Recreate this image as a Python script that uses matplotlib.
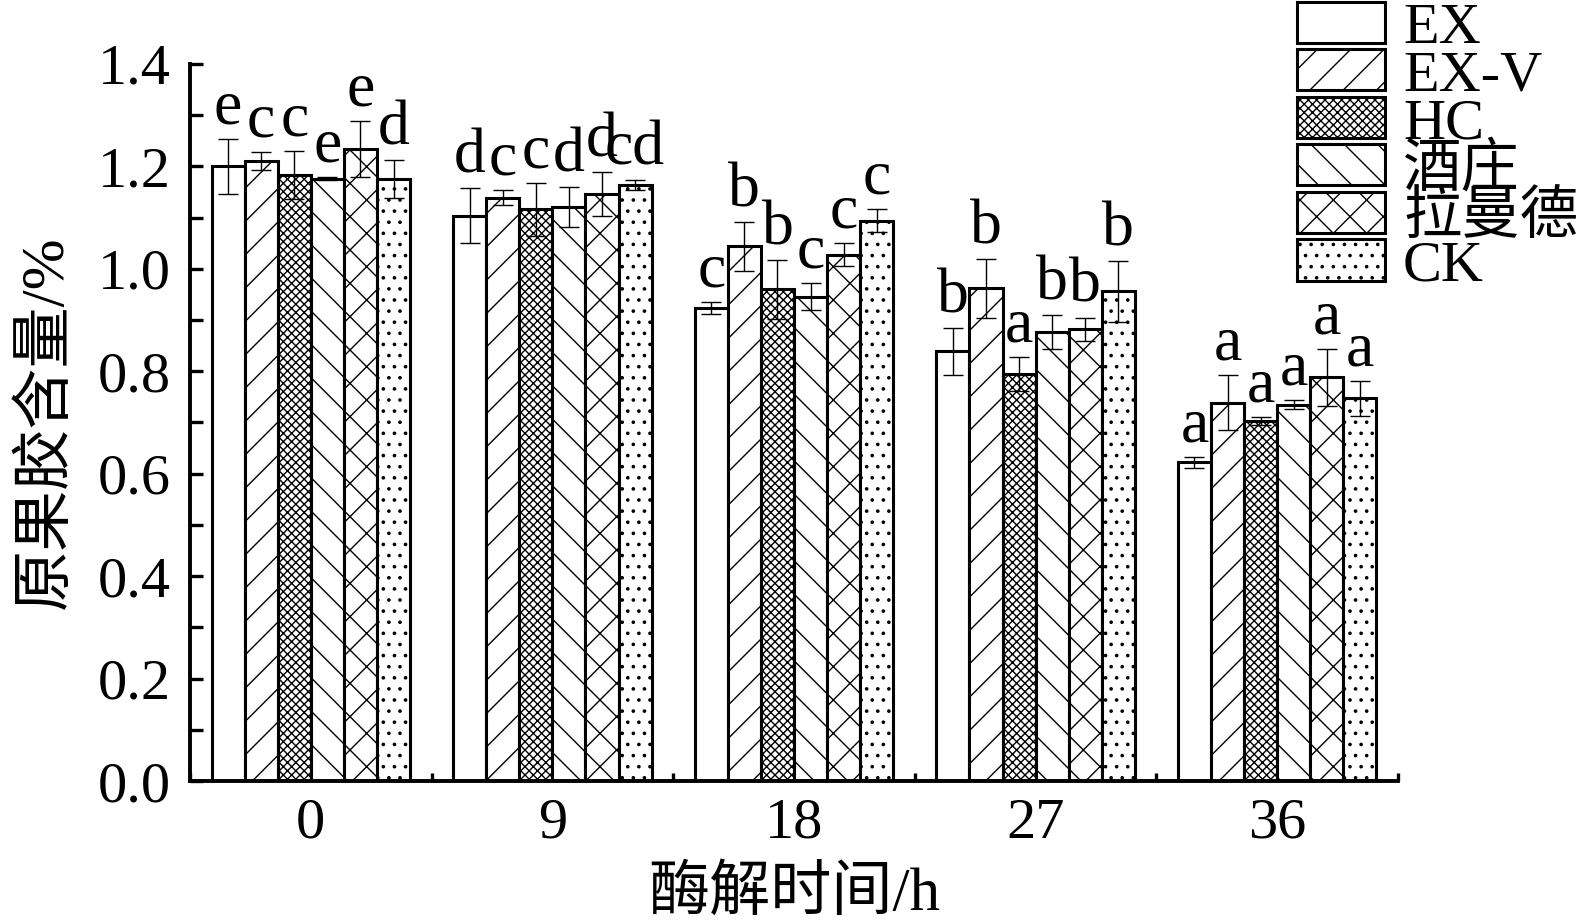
import matplotlib
matplotlib.use("Agg")
import matplotlib.pyplot as plt
from matplotlib.patches import Rectangle
from matplotlib.ticker import MultipleLocator, FixedLocator
import numpy as np

plt.rcParams["font.family"] = ["Liberation Serif", "Noto Sans CJK SC"]
plt.rcParams["hatch.linewidth"] = 0.5

# ── data ─────────────────────────────────────────────────────────────────────
times = ["0", "9", "18", "27", "36"]
series = ["EX", "EX-V", "HC", "酒庄", "拉曼德", "CK"]

ex        = [1.200, 1.104, 0.923, 0.839, 0.622]
ex_v      = [1.211, 1.139, 1.044, 0.962, 0.739]
hc        = [1.184, 1.116, 0.960, 0.795, 0.703]
jiuzhuang = [1.176, 1.120, 0.946, 0.876, 0.735]
lamande   = [1.234, 1.147, 1.028, 0.882, 0.788]
ck        = [1.175, 1.163, 1.094, 0.956, 0.747]

ex_err        = [0.053, 0.053, 0.012, 0.046, 0.010]
ex_v_err      = [0.017, 0.014, 0.048, 0.058, 0.053]
hc_err        = [0.047, 0.051, 0.058, 0.033, 0.007]
jiuzhuang_err = [0.003, 0.039, 0.027, 0.033, 0.008]
lamande_err   = [0.054, 0.043, 0.022, 0.023, 0.055]
ck_err        = [0.037, 0.010, 0.022, 0.059, 0.034]

ex_sig        = ["e", "d", "c", "b", "a"]
ex_v_sig      = ["c", "c", "b", "b", "a"]
hc_sig        = ["c", "c", "b", "a", "a"]
jiuzhuang_sig = ["e", "d", "c", "b", "a"]
lamande_sig   = ["e", "d", "c", "b", "a"]
ck_sig        = ["d", "cd", "c", "b", "a"]

means = [ex, ex_v, hc, jiuzhuang, lamande, ck]
errs  = [ex_err, ex_v_err, hc_err, jiuzhuang_err, lamande_err, ck_err]
sigs  = [ex_sig, ex_v_sig, hc_sig, jiuzhuang_sig, lamande_sig, ck_sig]
hatches = ["", "//", "xxxxxxxx", "\\\\", "xx", "..."]

# ── figure ───────────────────────────────────────────────────────────────────
W, H = 1577, 921
fig = plt.figure(figsize=(W / 200, H / 200), dpi=200)
ax = fig.add_axes([190 / W, 1 - 781 / H, (1398 - 190) / W, (781 - 64) / H])

x = np.arange(len(times))
w = 0.137
for j, (m, e, s, h) in enumerate(zip(means, errs, sigs, hatches)):
    pos = x + (j - 2.5) * w
    ax.bar(pos, m, width=w, facecolor="white", edgecolor="black",
           linewidth=1.1, hatch=h, zorder=2)
    ax.errorbar(pos, m, yerr=e, fmt="none", ecolor="black", elinewidth=0.5,
                capsize=3.6, capthick=0.5, zorder=3)
    for xi, mi, ei, si in zip(pos, m, e, s):
        ax.text(xi, mi + ei + 0.003, si, ha="center", va="bottom",
                fontsize=23, zorder=4)

ax.set_xlim(-0.5, len(times) - 0.5)
ax.set_ylim(0, 1.4)
ax.set_xticks(x)
ax.set_xticklabels(times)
ax.xaxis.set_minor_locator(FixedLocator(np.arange(-0.5, len(times), 1.0)))
ax.yaxis.set_major_locator(MultipleLocator(0.2))
ax.yaxis.set_minor_locator(MultipleLocator(0.1))
ax.yaxis.set_major_formatter(plt.FormatStrFormatter("%.1f"))
ax.tick_params(which="both", direction="in", width=1.2, labelsize=21)
ax.tick_params(axis="y", which="both", length=4.5, pad=7)
ax.tick_params(axis="x", which="major", length=4, pad=6)
ax.tick_params(axis="x", which="minor", length=3)
for side in ["top", "right"]:
    ax.spines[side].set_visible(False)
for side in ["left", "bottom"]:
    ax.spines[side].set_linewidth(1.4)

ax.set_xlabel("酶解时间/h", fontsize=22, labelpad=6)
ax.set_ylabel("原果胶含量/%", fontsize=22, labelpad=8)

# ── legend (manual, top right of figure) ─────────────────────────────────────
for i, (name, h) in enumerate(zip(series, hatches)):
    top = 2 + i * 47.5
    fig.patches.append(Rectangle((1297 / W, 1 - (top + 41) / H), 88 / W, 41 / H,
                                 transform=fig.transFigure, facecolor="white",
                                 edgecolor="black", linewidth=1.1, hatch=h))
    fig.text(1403 / W, 1 - (top + 41) / H, name, fontsize=21,
             ha="left", va="baseline")

fig.savefig("out.png", dpi=200)
